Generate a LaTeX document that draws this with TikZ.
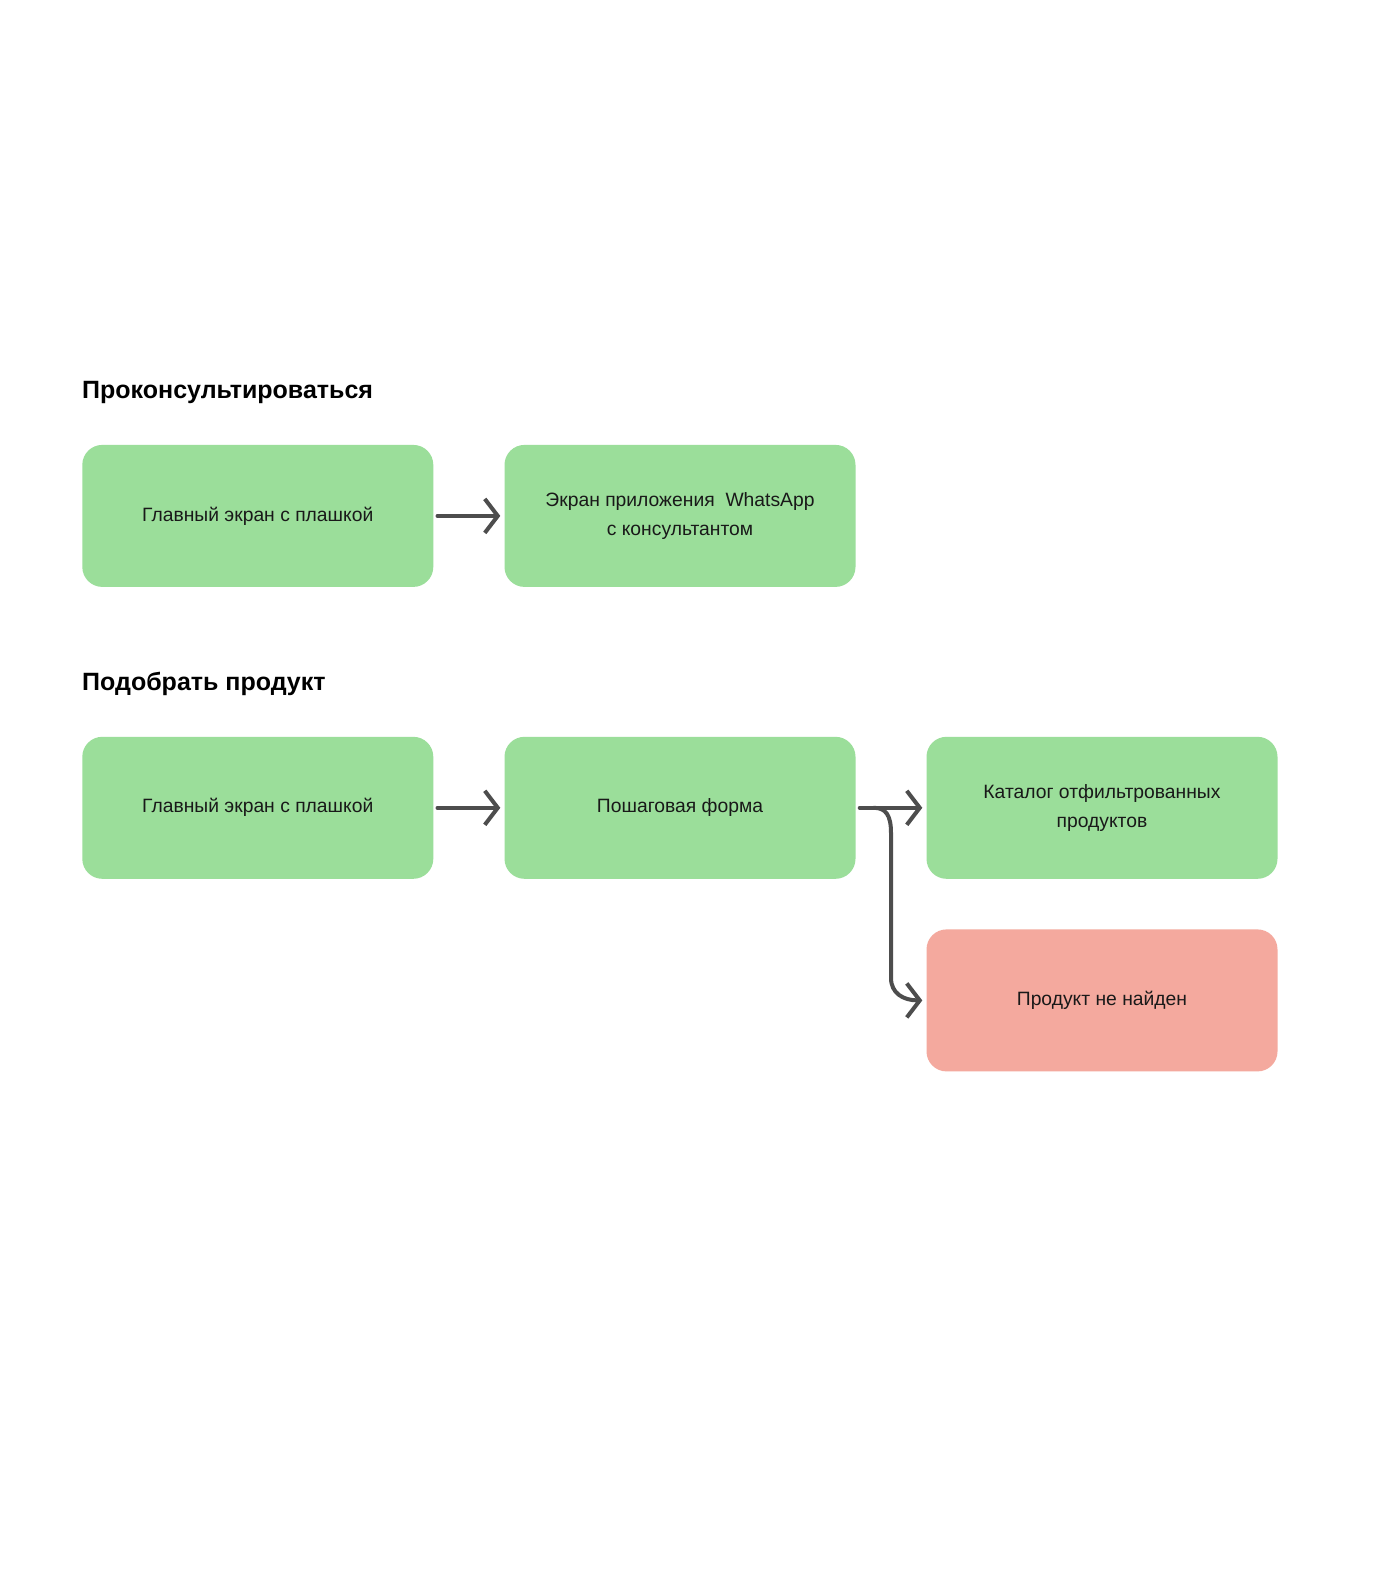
\documentclass[tikz,border=0pt]{standalone}
\usepackage{fontspec}
\setmainfont{Liberation Sans}
\usetikzlibrary{arrows.meta}
\definecolor{boxgreen}{HTML}{9BDE9A}
\definecolor{boxred}{HTML}{F4A99E}
\definecolor{arrowgray}{HTML}{4D4D4D}
\begin{document}
\begin{tikzpicture}[x=1pt,y=-1pt,
  screen/.style={rounded corners=20pt, minimum width=351pt, minimum height=142pt, inner sep=0pt, align=center, font=\fontsize{19.3}{29}\selectfont, text=black!90},
  greenbox/.style={screen, fill=boxgreen},
  redbox/.style={screen, fill=boxred},
  heading/.style={anchor=west, font=\fontsize{25}{28}\selectfont\bfseries, inner sep=0pt},
  flow/.style={draw=arrowgray, line width=4pt, line cap=round, line join=round, -{Straight Barb[length=13pt,width=34pt,line width=4pt]}}
]
\useasboundingbox[fill=white] (0,0) rectangle (1380,1572);
\node[heading] (h1) at (82,392) {Проконсультироваться};
\node[heading] (h2) at (82,684) {Подобрать продукт};
\node[greenbox] (a) at (257.8,515.9) {Главный экран с плашкой};
\node[greenbox] (b) at (680,515.9) {Экран приложения \ WhatsApp\\с консультантом};
\node[greenbox] (c) at (257.8,807.8) {Главный экран с плашкой};
\node[greenbox] (d) at (680,807.8) {Пошаговая форма};
\node[greenbox] (e) at (1102,807.8) {Каталог отфильтрованных\\продуктов};
\node[redbox] (f) at (1102,1000.4) {Продукт не найден};
\draw[flow] ([xshift=4pt]a.east) -- ([xshift=-4pt]b.west);
\draw[flow] ([xshift=4pt]c.east) -- ([xshift=-4pt]d.west);
\draw[flow] ([xshift=4pt]d.east) -- ([xshift=-4pt]e.west);
\coordinate (split) at ([xshift=18pt]d.east);
\draw[flow] (split) .. controls ([xshift=12pt]split) and (891,815) .. (891,833)
  -- (891,978) .. controls (891,993) and (903,1000.4) .. ([xshift=-4pt]f.west);
\end{tikzpicture}
\end{document}
